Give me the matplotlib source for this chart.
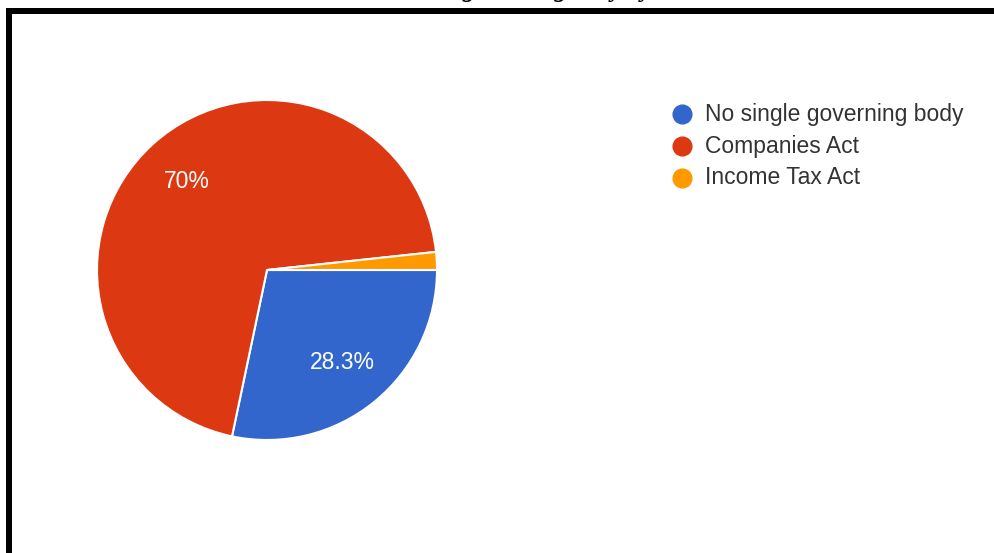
import matplotlib
matplotlib.use("Agg")
import numpy as np
import matplotlib.pyplot as plt
from matplotlib.patches import Rectangle
from matplotlib.lines import Line2D

# Survey responses
labels = ["No single governing body", "Companies Act", "Income Tax Act"]
shares = [28.3, 70.0, 1.7]
colors = ["#3366cc", "#dc3912", "#ff9900"]
pct_labels = ["28.3%", "70%", ""]

W, H = 995, 553
fig = plt.figure(figsize=(W / 100, H / 100), dpi=100)
fig.patch.set_facecolor("white")

def px_box(x0, y0, x1, y1):
    """Figure-fraction rect from pixel box (top-left origin)."""
    return [x0 / W, 1 - y1 / H, (x1 - x0) / W, (y1 - y0) / H]

# Pie
ax = fig.add_axes(px_box(97, 100, 437, 440))
wedges, texts = ax.pie(
    shares, colors=colors, startangle=0, counterclock=False, radius=1.0,
    wedgeprops=dict(edgecolor="white", linewidth=1.5),
)
for w, txt in zip(wedges, pct_labels):
    if not txt:
        continue
    ang = np.deg2rad((w.theta1 + w.theta2) / 2)
    d = 0.70
    ax.text(d * np.cos(ang), d * np.sin(ang), txt, ha="center", va="center",
            color="white", fontsize=16.5, family="Liberation Sans")
ax.set_xlim(-1, 1)
ax.set_ylim(-1, 1)
ax.set_aspect("equal")
ax.axis("off")

# Legend
lx, ly0, dy = 682, 114, 32
for i, (lab, col) in enumerate(zip(labels, colors)):
    y = ly0 + i * dy
    fig.add_artist(Line2D([lx / W], [1 - y / H], marker="o", markersize=13.5,
                          markerfacecolor=col, markeredgecolor=col,
                          linestyle="none", transform=fig.transFigure))
    fig.text(705 / W, 1 - y / H, lab, ha="left", va="center",
             fontsize=16.5, color="#333333", family="Liberation Sans")

# Frame
fig.add_artist(Rectangle((6 / W, 0), 6 / W, 1 - 8 / H, transform=fig.transFigure,
                         facecolor="black", edgecolor="none"))
fig.add_artist(Rectangle((6 / W, 1 - 14 / H), 1 - 6 / W, 6 / H,
                         transform=fig.transFigure, facecolor="black",
                         edgecolor="none"))

# Caption sitting above the frame
fig.canvas.draw()
r = fig.canvas.get_renderer()
cap_font = dict(fontsize=18, family="Liberation Serif", style="italic",
                weight="bold", color="black")
pre = fig.text(0, 0, "Views on the ", **cap_font)
pre_w = pre.get_window_extent(r).width
pre.remove()
fig.text((463 - pre_w) / W, 1 + 3.5 / H, "Views on the governing body by Act",
         ha="left", va="baseline", **cap_font)

fig.savefig("out.png", dpi=100, facecolor="white")
